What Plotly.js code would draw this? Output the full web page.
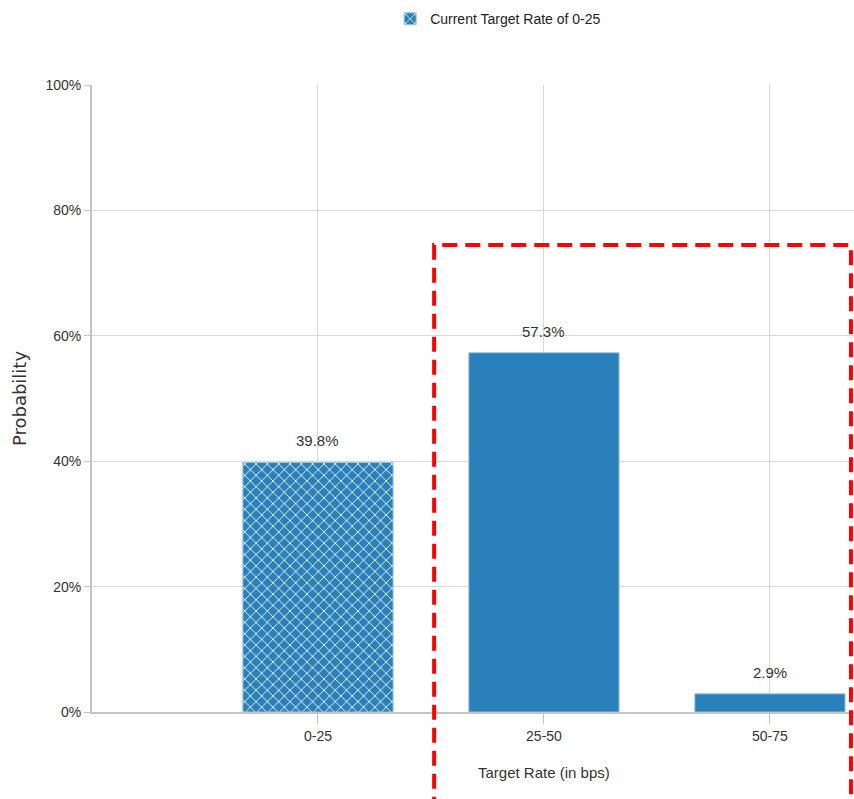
<!DOCTYPE html>
<html>
<head>
<meta charset="utf-8">
<script src="https://cdn.plot.ly/plotly-3.0.1.min.js"></script>
<style>html,body{margin:0;padding:0;overflow:hidden;background:#fff;}</style>
</head>
<body>
<div id="chart" style="width:854px;height:799px;"></div>
<script>
const categories = ['0-25', '25-50', '50-75'];
const probabilities = [39.8, 57.3, 2.9];
const currentName = 'Current Target Rate of 0-25';
const yTickValues = [0, 20, 40, 60, 80, 100];
const yTickLabels = ['0%', '20%', '40%', '60%', '80%', '100%'];

const blue = '#2a80b9';
const sans = '"Liberation Sans", Arial, sans-serif';

const traces = [
  {
    type: 'bar',
    name: currentName,
    x: categories.slice(0, 1),
    y: probabilities.slice(0, 1),
    width: 0.665,
    marker: {
      color: blue,
      line: {color: '#9ec7e3', width: 1},
      pattern: {shape: 'x', fgcolor: '#ffffff', bgcolor: blue, size: 8, solidity: 0.2, fillmode: 'replace'}
    },
    hoverinfo: 'x+y'
  },
  {
    type: 'bar',
    name: 'Other',
    showlegend: false,
    x: categories.slice(1),
    y: probabilities.slice(1),
    width: 0.665,
    marker: {color: blue, line: {color: '#9ec7e3', width: 1}},
    hoverinfo: 'x+y'
  }
];

const valueLabels = categories.map((c, i) => ({
  text: probabilities[i].toFixed(1) + '%',
  xref: 'x', yref: 'y',
  x: c, y: probabilities[i],
  xanchor: 'center', yanchor: 'bottom',
  yshift: 11,
  showarrow: false,
  font: {family: sans, size: 15, color: '#333'}
}));

const layout = {
  width: 854,
  height: 799,
  margin: {l: 92, r: 0, t: 85, b: 87, pad: 0, autoexpand: false},
  paper_bgcolor: '#ffffff',
  plot_bgcolor: '#ffffff',
  barmode: 'overlay',
  font: {family: sans, size: 14, color: '#333'},
  showlegend: true,
  legend: {
    orientation: 'h',
    x: 0.533, xanchor: 'center',
    y: 1.105, yanchor: 'middle',
    font: {family: sans, size: 14, color: '#222'}
  },
  xaxis: {
    type: 'category',
    categoryorder: 'array',
    categoryarray: categories,
    range: [-1, 2.372],
    showgrid: true,
    gridcolor: '#d9d9d9',
    gridwidth: 1,
    showline: true,
    linecolor: '#c4c4c4',
    linewidth: 2,
    ticks: 'outside',
    ticklen: 10,
    tickcolor: '#c4c4c4',
    tickfont: {family: sans, size: 14, color: '#333'},
    zeroline: false,
    fixedrange: true
  },
  yaxis: {
    range: [0, 100],
    tickvals: yTickValues,
    ticktext: yTickLabels,
    showgrid: true,
    gridcolor: '#d9d9d9',
    gridwidth: 1,
    showline: true,
    linecolor: '#c4c4c4',
    linewidth: 2,
    ticks: 'outside',
    ticklen: 6,
    tickcolor: '#c4c4c4',
    ticklabelstandoff: 0,
    tickfont: {family: sans, size: 14, color: '#333'},
    zeroline: false,
    automargin: true,
    title: {text: 'Probability', font: {family: '"DejaVu Sans", sans-serif', size: 18, color: '#333'}, standoff: 14},
    fixedrange: true
  },
  annotations: valueLabels.concat([
    {
      text: 'Target Rate (in bps)',
      xref: 'x', yref: 'paper',
      x: categories[1], y: -0.096,
      xanchor: 'center', yanchor: 'middle',
      showarrow: false,
      font: {family: sans, size: 15, color: '#333'}
    }
  ]),
  shapes: [
    {
      type: 'rect',
      xref: 'paper', yref: 'paper',
      x0: 0.449, x1: 0.996, y0: -0.2, y1: 0.745,
      line: {color: '#ff0000', width: 4, dash: '15px,8px'},
      fillcolor: 'rgba(0,0,0,0)',
      layer: 'above'
    }
  ]
};

Plotly.newPlot('chart', traces, layout, {displayModeBar: false, staticPlot: true});
</script>
</body>
</html>
